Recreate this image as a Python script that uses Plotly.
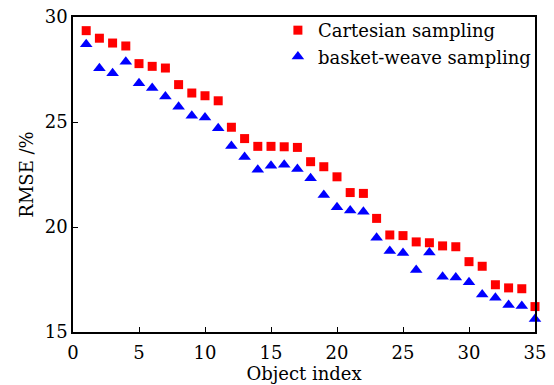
import plotly.graph_objects as go

object_index = list(range(1, 36))
cartesian = [29.35, 28.99, 28.76, 28.62, 27.78, 27.65, 27.57, 26.78, 26.38, 26.25,
             26.01, 24.75, 24.21, 23.84, 23.84, 23.82, 23.79, 23.11, 22.87, 22.39,
             21.64, 21.60, 20.41, 19.62, 19.59, 19.29, 19.25, 19.10, 19.06, 18.35,
             18.13, 17.25, 17.10, 17.06, 16.21]
basket_weave = [28.70, 27.56, 27.32, 27.87, 26.84, 26.62, 26.21, 25.73, 25.30, 25.21,
                24.70, 23.86, 23.33, 22.73, 22.92, 22.97, 22.76, 22.32, 21.52, 20.94,
                20.78, 20.73, 19.49, 18.86, 18.76, 17.95, 18.79, 17.63, 17.59, 17.37,
                16.78, 16.63, 16.29, 16.24, 15.62]

x_ticks = [0, 5, 10, 15, 20, 25, 30, 35]
y_ticks = [15, 20, 25, 30]

font_family = "DejaVu Serif"
fs = 18

fig = go.Figure()
fig.add_trace(go.Scatter(x=object_index, y=cartesian, mode="markers",
                         name="Cartesian sampling",
                         marker=dict(symbol="square", size=9, color="#ff0000"),
                         cliponaxis=False))
fig.add_trace(go.Scatter(x=object_index, y=basket_weave, mode="markers",
                         name="basket-weave sampling",
                         marker=dict(symbol="triangle-up", size=11, color="#0000ff"),
                         cliponaxis=False))

axis_common = dict(showline=True, linecolor="black", linewidth=1.5, mirror=True,
                   ticks="inside", ticklen=5, tickwidth=1, tickcolor="black",
                   showgrid=False, zeroline=False, automargin=False,
                   tickfont=dict(family=font_family, size=fs, color="black"))

fig.update_xaxes(range=[0, 35], tickvals=x_ticks, ticklabelstandoff=4,
                 title=dict(text="Object index", font=dict(family=font_family, size=fs, color="black"), standoff=4),
                 **axis_common)
fig.update_yaxes(range=[15, 30], tickvals=y_ticks,
                 title=dict(text="RMSE /%", font=dict(family=font_family, size=fs, color="black"), standoff=6),
                 **axis_common)

fig.update_layout(
    width=554, height=385,
    margin=dict(l=73, r=19, t=17, b=53),
    paper_bgcolor="white", plot_bgcolor="white",
    font=dict(family=font_family, size=fs, color="black"),
    legend=dict(x=0.4435, y=1.016, xanchor="left", yanchor="top",
                bgcolor="rgba(0,0,0,0)", font=dict(family=font_family, size=fs, color="black"),
                tracegroupgap=0, itemwidth=30),
    showlegend=True,
)

fig.write_html("out.html")
